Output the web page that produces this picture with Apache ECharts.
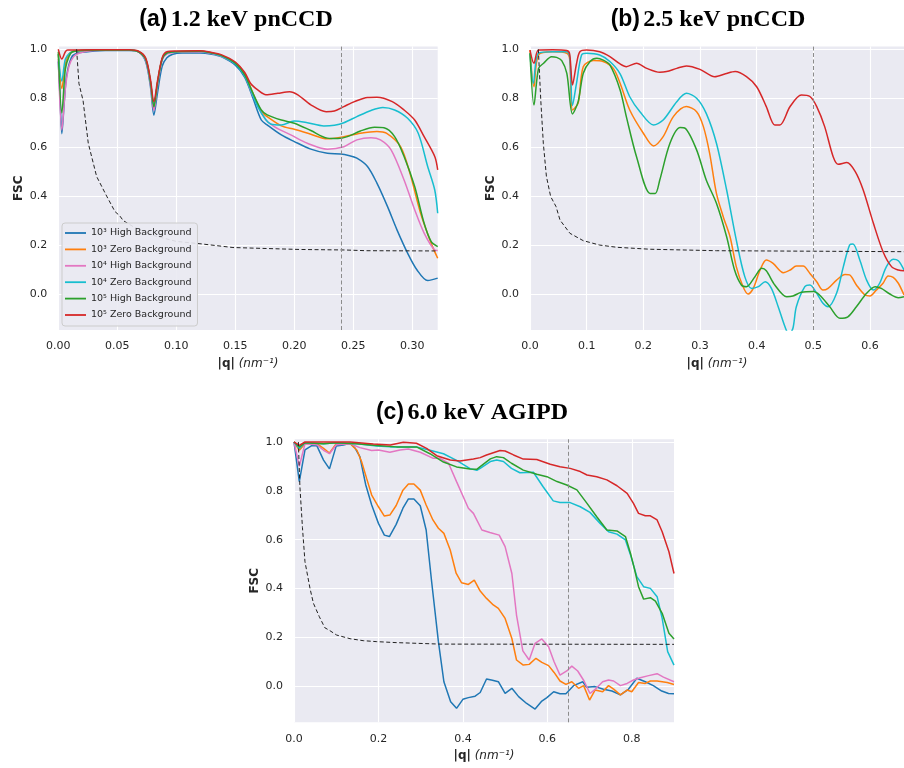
<!DOCTYPE html>
<html><head><meta charset="utf-8">
<script src="https://cdn.jsdelivr.net/npm/echarts@6/dist/echarts.min.js"></script>
<style>html,body{margin:0;padding:0;background:#fff}#c{width:904px;height:768px}</style>
</head><body><div id="c"></div>
<script>
// ---------- Legend / series names ----------
const seriesNames = ['10³ High Background','10³ Zero Background','10⁴ High Background','10⁴ Zero Background','10⁵ High Background','10⁵ Zero Background'];
const colors = ['#1f77b4','#ff7f0e','#e377c2','#17becf','#2ca02c','#d62728'];
const panelTitles = [['(a)','1.2 keV pnCCD'],['(b)','2.5 keV pnCCD'],['(c)','6.0 keV AGIPD']];
const cutoffQ = [0.2424, 0.504, 0.649];

// ---------- Panel (a) 1.2 keV ----------
const a_blue_q = [0,0.0015,0.003,0.005,0.007,0.011,0.0155,0.025,0.04,0.06,0.068,0.074,0.078,0.081,0.084,0.088,0.092,0.097,0.105,0.12,0.13,0.138,0.15,0.158,0.165,0.172,0.177,0.189,0.2,0.214,0.228,0.239,0.246,0.253,0.262,0.27,0.279,0.287,0.296,0.304,0.313,0.3215];
const a_blue_f = [0.95,0.8,0.655,0.78,0.89,0.965,0.984,0.99,0.995,0.995,0.99,0.95,0.85,0.731,0.82,0.93,0.965,0.98,0.985,0.985,0.98,0.97,0.935,0.885,0.8,0.711,0.691,0.65,0.623,0.592,0.575,0.572,0.566,0.555,0.521,0.453,0.357,0.262,0.167,0.098,0.055,0.065];
const a_orange_q = [0,0.003,0.006,0.009,0.012,0.02,0.04,0.06,0.068,0.074,0.078,0.081,0.084,0.088,0.092,0.1,0.12,0.13,0.138,0.15,0.158,0.165,0.172,0.177,0.189,0.2,0.214,0.228,0.242,0.256,0.27,0.278,0.29,0.298,0.307,0.316,0.3215];
const a_orange_f = [0.98,0.84,0.94,0.98,0.99,0.995,0.997,0.997,0.99,0.96,0.87,0.76,0.86,0.96,0.985,0.99,0.993,0.985,0.975,0.945,0.9,0.82,0.745,0.725,0.687,0.673,0.653,0.634,0.643,0.657,0.664,0.657,0.602,0.493,0.33,0.207,0.146];
const a_pink_q = [0,0.003,0.006,0.009,0.013,0.018,0.03,0.06,0.068,0.074,0.078,0.081,0.084,0.088,0.092,0.1,0.12,0.13,0.138,0.15,0.158,0.165,0.175,0.183,0.197,0.211,0.228,0.242,0.253,0.265,0.273,0.282,0.293,0.302,0.31,0.319,0.3215];
const a_pink_f = [0.96,0.67,0.84,0.93,0.97,0.985,0.995,0.997,0.99,0.955,0.86,0.75,0.85,0.955,0.98,0.988,0.99,0.983,0.972,0.942,0.893,0.81,0.718,0.684,0.65,0.616,0.592,0.602,0.63,0.639,0.63,0.589,0.466,0.344,0.249,0.18,0.178];
const a_cyan_q = [0,0.003,0.006,0.01,0.015,0.03,0.06,0.068,0.074,0.078,0.081,0.084,0.088,0.092,0.1,0.12,0.13,0.138,0.15,0.158,0.163,0.169,0.176,0.18,0.189,0.2,0.211,0.225,0.234,0.242,0.253,0.265,0.275,0.285,0.296,0.305,0.313,0.319,0.3215];
const a_cyan_f = [0.98,0.87,0.96,0.985,0.993,0.997,0.997,0.99,0.96,0.87,0.772,0.86,0.96,0.985,0.99,0.992,0.984,0.973,0.94,0.89,0.835,0.766,0.711,0.695,0.691,0.707,0.70,0.687,0.69,0.70,0.725,0.75,0.762,0.752,0.718,0.657,0.521,0.425,0.33];
const a_green_q = [0,0.003,0.006,0.009,0.012,0.02,0.06,0.068,0.074,0.078,0.081,0.084,0.088,0.092,0.1,0.12,0.13,0.138,0.15,0.158,0.165,0.172,0.177,0.189,0.2,0.214,0.228,0.237,0.245,0.256,0.268,0.276,0.285,0.293,0.302,0.31,0.316,0.3215];
const a_green_f = [0.99,0.74,0.92,0.97,0.99,0.995,0.997,0.99,0.96,0.87,0.765,0.86,0.96,0.985,0.99,0.992,0.985,0.975,0.943,0.895,0.82,0.752,0.732,0.711,0.698,0.668,0.637,0.635,0.643,0.666,0.681,0.679,0.643,0.562,0.439,0.289,0.214,0.194];
const a_red_q = [0,0.003,0.006,0.008,0.03,0.06,0.068,0.074,0.078,0.081,0.084,0.088,0.092,0.1,0.12,0.13,0.138,0.15,0.158,0.163,0.169,0.176,0.186,0.196,0.203,0.214,0.227,0.234,0.242,0.251,0.262,0.27,0.283,0.293,0.302,0.31,0.319,0.3215];
const a_red_f = [1.0,0.96,0.99,0.997,0.998,0.998,0.992,0.965,0.88,0.786,0.87,0.965,0.99,0.993,0.994,0.987,0.978,0.948,0.905,0.86,0.834,0.814,0.82,0.827,0.814,0.773,0.745,0.748,0.766,0.786,0.803,0.804,0.786,0.752,0.711,0.643,0.562,0.507];
const a_thr_q = [0.0155,0.0175,0.021,0.0254,0.0325,0.041,0.048,0.052,0.055,0.0636,0.08,0.1,0.121,0.148,0.205,0.2424,0.261,0.3215];
const a_thr_f = [1.0,0.86,0.79,0.616,0.48,0.40,0.337,0.32,0.30,0.275,0.24,0.215,0.205,0.19,0.182,0.18,0.177,0.176];

// ---------- Panel (b) 2.5 keV ----------
const b_orange_q = [0,0.007,0.015,0.04,0.065,0.07,0.075,0.085,0.094,0.112,0.129,0.147,0.159,0.176,0.2,0.218,0.235,0.253,0.276,0.294,0.306,0.317,0.329,0.341,0.353,0.364,0.376,0.385,0.394,0.406,0.417,0.429,0.447,0.459,0.47,0.482,0.494,0.506,0.517,0.526,0.541,0.556,0.564,0.576,0.591,0.6,0.611,0.623,0.632,0.641,0.65,0.66];
const b_orange_f = [0.997,0.847,0.977,0.99,0.984,0.96,0.752,0.78,0.929,0.954,0.95,0.922,0.861,0.752,0.657,0.605,0.643,0.725,0.766,0.745,0.684,0.575,0.411,0.316,0.234,0.112,0.03,0.0,0.023,0.098,0.139,0.125,0.087,0.098,0.114,0.114,0.084,0.05,0.016,0.023,0.057,0.08,0.078,0.037,-0.004,-0.008,0.016,0.044,0.074,0.068,0.044,-0.004];
const b_cyan_q = [0,0.006,0.015,0.04,0.065,0.07,0.075,0.082,0.091,0.1,0.123,0.141,0.159,0.176,0.194,0.218,0.235,0.259,0.276,0.294,0.311,0.329,0.347,0.364,0.379,0.391,0.403,0.415,0.426,0.438,0.45,0.457,0.464,0.47,0.485,0.494,0.506,0.517,0.526,0.541,0.553,0.564,0.57,0.582,0.594,0.606,0.617,0.629,0.641,0.65,0.66];
const b_cyan_f = [0.984,0.861,0.984,0.99,0.99,0.97,0.77,0.86,0.977,0.984,0.977,0.95,0.9,0.806,0.745,0.691,0.711,0.786,0.82,0.80,0.738,0.616,0.425,0.221,0.071,0.023,0.03,0.05,0.023,-0.052,-0.134,-0.165,-0.14,-0.052,0.03,0.037,0.003,-0.038,-0.052,0.003,0.112,0.2,0.204,0.139,0.057,0.016,0.044,0.112,0.142,0.136,0.098];
const b_green_q = [0,0.007,0.015,0.024,0.038,0.047,0.056,0.065,0.075,0.085,0.094,0.106,0.118,0.129,0.141,0.159,0.17,0.188,0.212,0.221,0.229,0.247,0.265,0.274,0.294,0.311,0.329,0.347,0.361,0.373,0.382,0.397,0.409,0.417,0.432,0.453,0.464,0.479,0.5,0.511,0.529,0.547,0.561,0.576,0.594,0.609,0.62,0.635,0.65,0.66];
const b_green_f = [0.984,0.772,0.922,0.943,0.97,0.967,0.954,0.902,0.736,0.786,0.902,0.95,0.963,0.956,0.936,0.834,0.725,0.561,0.411,0.411,0.466,0.616,0.68,0.677,0.589,0.466,0.371,0.234,0.098,0.037,0.03,0.071,0.105,0.095,0.037,-0.011,-0.008,0.007,0.01,-0.004,-0.052,-0.099,-0.093,-0.052,0.003,0.03,0.023,0.0,-0.015,-0.011];
const b_red_q = [0,0.007,0.015,0.04,0.065,0.07,0.075,0.082,0.088,0.1,0.123,0.141,0.159,0.17,0.188,0.206,0.229,0.241,0.259,0.276,0.3,0.326,0.345,0.362,0.382,0.4,0.417,0.432,0.441,0.459,0.479,0.494,0.506,0.52,0.535,0.544,0.559,0.574,0.588,0.606,0.623,0.638,0.65,0.66];
const b_red_f = [0.997,0.943,0.997,0.998,0.995,0.98,0.854,0.94,0.99,0.997,0.99,0.97,0.94,0.929,0.943,0.922,0.906,0.909,0.922,0.932,0.918,0.888,0.9,0.909,0.888,0.847,0.766,0.691,0.691,0.766,0.813,0.807,0.766,0.684,0.561,0.53,0.537,0.5,0.425,0.289,0.173,0.112,0.098,0.095];
const b_thr_q = [0.0147,0.019,0.0235,0.029,0.0365,0.046,0.053,0.0705,0.094,0.123,0.153,0.212,0.329,0.66];
const b_thr_f = [1.0,0.793,0.616,0.48,0.398,0.357,0.302,0.248,0.218,0.2,0.191,0.183,0.177,0.173];

// ---------- Panel (c) 6.0 keV ----------
const c_blue_q = [0,0.0126,0.026,0.042,0.054,0.07,0.084,0.1,0.117,0.133,0.145,0.156,0.17,0.184,0.2,0.214,0.226,0.242,0.258,0.271,0.284,0.299,0.313,0.326,0.342,0.355,0.371,0.385,0.4,0.413,0.429,0.441,0.456,0.47,0.484,0.5,0.516,0.532,0.551,0.571,0.587,0.599,0.615,0.63,0.644,0.662,0.684,0.693,0.713,0.733,0.753,0.773,0.792,0.812,0.832,0.851,0.871,0.887,0.9];
const c_blue_f = [1.0,0.838,0.968,0.985,0.985,0.926,0.89,0.984,0.988,0.995,0.974,0.94,0.824,0.742,0.667,0.619,0.613,0.663,0.729,0.767,0.767,0.739,0.64,0.428,0.183,0.019,-0.063,-0.09,-0.053,-0.046,-0.04,-0.025,0.03,0.025,0.019,-0.029,-0.008,-0.042,-0.07,-0.093,-0.06,-0.046,-0.022,-0.03,-0.03,0.003,0.019,-0.004,-0.001,-0.012,-0.019,-0.035,-0.012,0.033,0.019,0.003,-0.019,-0.029,-0.03];
const c_orange_q = [0,0.0126,0.026,0.054,0.07,0.084,0.1,0.133,0.149,0.16,0.172,0.184,0.2,0.214,0.227,0.242,0.258,0.271,0.284,0.299,0.313,0.329,0.342,0.355,0.37,0.384,0.397,0.413,0.427,0.441,0.456,0.472,0.484,0.5,0.516,0.527,0.543,0.557,0.573,0.587,0.603,0.616,0.63,0.644,0.658,0.674,0.686,0.7,0.713,0.731,0.745,0.757,0.773,0.789,0.8,0.816,0.832,0.844,0.86,0.884,0.9];
const c_orange_f = [1.0,0.966,0.993,0.993,0.974,0.955,0.993,0.993,0.966,0.92,0.851,0.783,0.735,0.697,0.701,0.74,0.803,0.828,0.828,0.803,0.742,0.681,0.647,0.626,0.558,0.463,0.424,0.417,0.435,0.39,0.36,0.333,0.319,0.278,0.196,0.108,0.087,0.09,0.115,0.098,0.085,0.057,0.022,0.008,0.019,-0.008,0.003,-0.056,-0.015,-0.022,0.003,-0.011,-0.035,-0.015,-0.022,0.016,0.012,0.022,0.022,0.016,0.008];
const c_pink_q = [0,0.0126,0.026,0.054,0.07,0.084,0.1,0.133,0.156,0.184,0.2,0.227,0.251,0.271,0.299,0.33,0.346,0.366,0.385,0.413,0.425,0.445,0.464,0.486,0.5,0.516,0.527,0.542,0.557,0.571,0.587,0.603,0.616,0.63,0.646,0.658,0.672,0.687,0.701,0.716,0.731,0.745,0.757,0.773,0.789,0.804,0.82,0.84,0.86,0.875,0.9];
const c_pink_f = [1.0,0.9,0.993,0.989,0.966,0.952,0.989,0.993,0.977,0.965,0.967,0.958,0.967,0.971,0.958,0.933,0.933,0.913,0.838,0.729,0.708,0.64,0.63,0.619,0.572,0.462,0.292,0.145,0.108,0.176,0.194,0.162,0.101,0.046,0.063,0.083,0.063,0.022,-0.029,-0.008,0.019,0.026,0.022,0.003,0.012,0.026,0.035,0.044,0.052,0.038,0.019];
const c_cyan_q = [0,0.0126,0.026,0.07,0.1,0.149,0.196,0.228,0.29,0.322,0.354,0.385,0.417,0.433,0.441,0.465,0.48,0.496,0.515,0.535,0.567,0.59,0.614,0.63,0.654,0.678,0.701,0.725,0.745,0.765,0.785,0.797,0.812,0.828,0.844,0.86,0.872,0.885,0.9];
const c_cyan_f = [1.0,0.973,0.997,0.993,0.997,0.993,0.984,0.98,0.98,0.966,0.952,0.925,0.891,0.884,0.892,0.92,0.926,0.92,0.892,0.874,0.876,0.817,0.759,0.752,0.752,0.735,0.712,0.667,0.633,0.623,0.599,0.538,0.449,0.408,0.401,0.367,0.278,0.142,0.087];
const c_green_q = [0,0.0126,0.026,0.07,0.1,0.149,0.196,0.243,0.29,0.322,0.354,0.385,0.417,0.433,0.441,0.465,0.48,0.496,0.515,0.543,0.575,0.599,0.623,0.646,0.67,0.694,0.717,0.741,0.765,0.785,0.797,0.806,0.816,0.828,0.844,0.856,0.872,0.888,0.9];
const c_green_f = [1.0,0.98,0.997,0.993,0.997,0.993,0.986,0.98,0.98,0.952,0.918,0.898,0.889,0.888,0.899,0.931,0.94,0.936,0.913,0.885,0.868,0.858,0.838,0.824,0.804,0.749,0.694,0.64,0.636,0.613,0.544,0.483,0.408,0.357,0.363,0.349,0.299,0.217,0.194];
const c_red_q = [0,0.0126,0.026,0.1,0.133,0.188,0.228,0.259,0.29,0.314,0.338,0.37,0.393,0.425,0.441,0.456,0.488,0.5,0.52,0.543,0.575,0.607,0.63,0.654,0.678,0.694,0.717,0.741,0.765,0.789,0.804,0.816,0.832,0.844,0.86,0.872,0.888,0.9];
const c_red_f = [1.0,0.986,1.0,1.0,1.0,0.992,0.988,0.999,0.995,0.974,0.944,0.926,0.922,0.93,0.936,0.947,0.965,0.963,0.947,0.93,0.928,0.909,0.899,0.892,0.879,0.865,0.858,0.845,0.821,0.79,0.749,0.708,0.698,0.698,0.681,0.633,0.551,0.462];
const c_thr_q = [0.0103,0.014,0.02,0.026,0.038,0.046,0.06,0.073,0.085,0.101,0.133,0.164,0.196,0.243,0.346,0.9];
const c_thr_f = [1.0,0.817,0.65,0.51,0.40,0.34,0.285,0.24,0.228,0.21,0.195,0.187,0.183,0.179,0.173,0.172];

// ---------- layout ----------
const Y_MIN = -0.147, Y_MAX = 1.011;
const grids = [
  {left:58.3, top:46.6, width:379.4, height:283.4},
  {left:530, top:46.6, width:374, height:283.4},
  {left:294, top:439.3, width:380, height:283}
];
const xMax = [0.3215, 0.66, 0.9];
const xInterval = [0.05, 0.1, 0.2];
const xDigits = [2, 1, 1];
const titlePos = [[236,20],[708,20],[472,413]];

const zip = (q, f) => q.map((v, i) => [v, f[i]]);
const panels = [
  {thr:[a_thr_q,a_thr_f], curves:[[0,a_blue_q,a_blue_f],[1,a_orange_q,a_orange_f],[2,a_pink_q,a_pink_f],[3,a_cyan_q,a_cyan_f],[4,a_green_q,a_green_f],[5,a_red_q,a_red_f]], smooth:0.3},
  {thr:[b_thr_q,b_thr_f], curves:[[1,b_orange_q,b_orange_f],[3,b_cyan_q,b_cyan_f],[4,b_green_q,b_green_f],[5,b_red_q,b_red_f]], smooth:0.3},
  {thr:[c_thr_q,c_thr_f], curves:[[0,c_blue_q,c_blue_f],[1,c_orange_q,c_orange_f],[2,c_pink_q,c_pink_f],[3,c_cyan_q,c_cyan_f],[4,c_green_q,c_green_f],[5,c_red_q,c_red_f]], smooth:false}
];

const tickColor = '#262626';
const xAxes = [], yAxes = [], series = [], gridOpts = [], graphics = [];
grids.forEach((g, i) => {
  gridOpts.push(Object.assign({show:true, backgroundColor:'#EAEAF2', borderWidth:0}, g));
  xAxes.push({
    type:'value', gridIndex:i, min:0, max:xMax[i], interval:xInterval[i],
    axisLine:{show:false}, axisTick:{show:false},
    axisLabel:{color:tickColor, fontSize:11, fontFamily:'DejaVu Sans', margin:11, showMaxLabel:false,
      formatter:v => v.toFixed(xDigits[i])},
    splitLine:{show:true, showMaxLine:false, lineStyle:{color:'#ffffff', width:1.1}},
    name:'{b||q|} {i|(nm⁻¹)}', nameLocation:'middle', nameGap:28,
    nameTextStyle:{color:tickColor, fontSize:12, fontFamily:'DejaVu Sans',
      rich:{b:{fontWeight:'bold', fontSize:12, color:tickColor, fontFamily:'DejaVu Sans'}, i:{fontStyle:'italic', fontSize:12, color:tickColor, fontFamily:'DejaVu Sans'}}}
  });
  yAxes.push({
    type:'value', gridIndex:i, min:Y_MIN, max:Y_MAX, splitNumber:5,
    axisLine:{show:false}, axisTick:{show:false},
    axisLabel:{color:tickColor, fontSize:11, fontFamily:'DejaVu Sans', margin:11, showMinLabel:false, showMaxLabel:false,
      formatter:v => v.toFixed(1)},
    splitLine:{show:true, showMinLine:false, showMaxLine:false, lineStyle:{color:'#ffffff', width:1.1}},
    name:'FSC', nameLocation:'middle', nameGap:33,
    nameTextStyle:{color:tickColor, fontSize:12, fontWeight:'bold', fontFamily:'DejaVu Sans'}
  });
  const p = panels[i];
  series.push({
    type:'line', xAxisIndex:i, yAxisIndex:i, data:zip(p.thr[0], p.thr[1]), symbol:'none', smooth:false,
    lineStyle:{color:'#222222', width:1, type:[4,2.5]}, silent:true, z:3,
    markLine:{silent:true, symbol:'none', label:{show:false},
      lineStyle:{color:'#8c8c8c', width:1, type:[4,2.5]}, data:[{xAxis:cutoffQ[i]}]}
  });
  p.curves.forEach(([ci, q, f]) => {
    series.push({
      name:seriesNames[ci], type:'line', xAxisIndex:i, yAxisIndex:i, data:zip(q, f),
      symbol:'none', smooth:p.smooth, color:colors[ci],
      lineStyle:{color:colors[ci], width:1.5}, z:2
    });
  });
  const t = panelTitles[i];
  graphics.push({
    type:'text', x:titlePos[i][0], y:titlePos[i][1],
    style:{text:'{s|' + t[0] + '} {t|' + t[1] + '}', align:'center', verticalAlign:'middle',
      rich:{s:{fontFamily:'Liberation Sans', fontWeight:'bold', fontSize:23, fill:'#000'},
            t:{fontFamily:'Liberation Serif', fontWeight:'bold', fontSize:24, fill:'#000'}}}
  });
});

const chart = echarts.init(document.getElementById('c'), null, {renderer:'canvas'});
chart.setOption({
  animation:false,
  backgroundColor:'#ffffff',
  grid:gridOpts, xAxis:xAxes, yAxis:yAxes, series:series, graphic:graphics,
  legend:{
    data:seriesNames, left:62, top:223, orient:'vertical', icon:'rect',
    itemWidth:21, itemHeight:1.8, itemGap:4.4, padding:[4,6,5,3],
    backgroundColor:'rgba(234,234,242,0.9)', borderColor:'#cccccc', borderWidth:1, borderRadius:3,
    textStyle:{fontSize:9.5, lineHeight:12, color:tickColor, fontFamily:'DejaVu Sans'}
  }
});
</script>
</body></html>
